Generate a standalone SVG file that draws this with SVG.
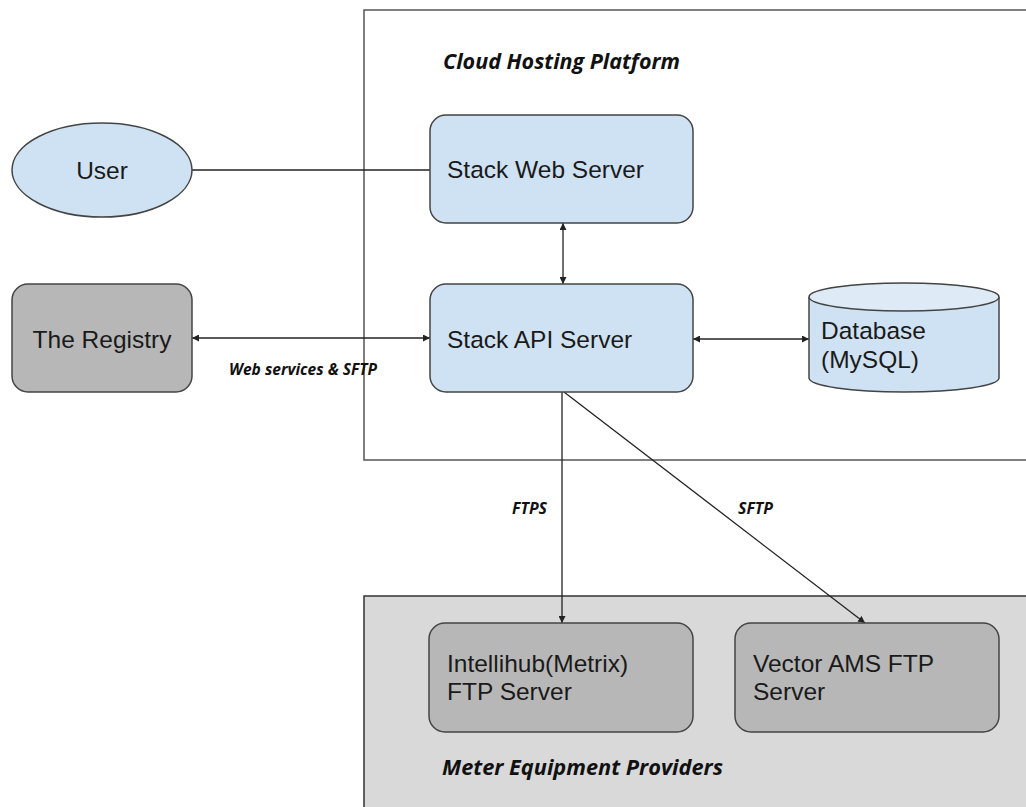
<svg xmlns="http://www.w3.org/2000/svg" width="1026" height="807" viewBox="0 0 1026 807">
<style>
.node{stroke:#444;stroke-width:1.5}
.blue{fill:#cfe2f3}
.gray{fill:#b7b7b7}
.t{font-family:"Liberation Sans",Arial,sans-serif;font-size:24.5px;fill:#1a1a1a}
.lbl{font-family:"Open Sans","DejaVu Sans",sans-serif;font-weight:bold;font-style:italic;fill:#111}
.conn{stroke:#222;stroke-width:1.3;fill:none}
</style>
<defs>
<marker id="ah" viewBox="0 0 10 10" refX="10" refY="5" markerWidth="7" markerHeight="7" markerUnits="userSpaceOnUse" orient="auto-start-reverse">
<path d="M0,0 L10,5 L0,10 z" fill="#222"/>
</marker>
</defs>
<rect width="1026" height="807" fill="#fff"/>
<g id="cloud">
<rect x="364" y="10" width="700" height="450" fill="#fff" stroke="#555" stroke-width="1.5"/>
<text class="lbl" x="443" y="69" font-size="22" textLength="237" lengthAdjust="spacingAndGlyphs">Cloud Hosting Platform</text>
</g>
<g id="meter">
<rect x="364" y="596" width="700" height="250" fill="#d9d9d9" stroke="#333" stroke-width="1.5"/>
<text class="lbl" x="442" y="775" font-size="21" textLength="281" lengthAdjust="spacingAndGlyphs">Meter Equipment Providers</text>
</g>
<g id="connectors">
<line class="conn" x1="192" y1="170" x2="430" y2="170"/>
<line class="conn" x1="192" y1="338" x2="430" y2="338" marker-start="url(#ah)" marker-end="url(#ah)"/>
<line class="conn" x1="563" y1="223" x2="563" y2="284" marker-start="url(#ah)" marker-end="url(#ah)"/>
<line class="conn" x1="693" y1="339" x2="809" y2="339" marker-start="url(#ah)" marker-end="url(#ah)"/>
<line class="conn" x1="562" y1="392" x2="562" y2="623" marker-end="url(#ah)"/>
<line class="conn" x1="564" y1="392" x2="865" y2="623" marker-end="url(#ah)"/>
<text class="lbl" x="229" y="375" font-size="16" textLength="148" lengthAdjust="spacingAndGlyphs">Web services &amp; SFTP</text>
<text class="lbl" x="512" y="514" font-size="15.5" textLength="35" lengthAdjust="spacingAndGlyphs">FTPS</text>
<text class="lbl" x="738" y="514" font-size="15.5" textLength="35" lengthAdjust="spacingAndGlyphs">SFTP</text>
</g>
<g id="user">
<ellipse class="node blue" cx="102" cy="170" rx="90" ry="47"/>
<text class="t" x="102" y="179" text-anchor="middle">User</text>
</g>
<g id="registry">
<rect class="node gray" x="12" y="284" width="180" height="108" rx="16"/>
<text class="t" x="102" y="348" text-anchor="middle">The Registry</text>
</g>
<g id="web">
<rect class="node blue" x="430" y="115" width="263" height="108" rx="16"/>
<text class="t" x="447" y="178">Stack Web Server</text>
</g>
<g id="api">
<rect class="node blue" x="430" y="284" width="263" height="108" rx="16"/>
<text class="t" x="447" y="348">Stack API Server</text>
</g>
<g id="database">
<path class="node blue" d="M809,297 L809,378 A95,14 0 0 0 999,378 L999,297"/>
<ellipse class="node" cx="904" cy="297" rx="95" ry="14" fill="#deebf7"/>
<text class="t" x="821" y="339">Database</text>
<text class="t" x="821" y="368">(MySQL)</text>
</g>
<g id="intellihub">
<rect class="node gray" x="429" y="623" width="264" height="109" rx="16"/>
<text class="t" x="447" y="672">Intellihub(Metrix)</text>
<text class="t" x="447" y="700">FTP Server</text>
</g>
<g id="vector">
<rect class="node gray" x="735" y="623" width="264" height="109" rx="16"/>
<text class="t" x="753" y="672">Vector AMS FTP</text>
<text class="t" x="753" y="700">Server</text>
</g>
</svg>
